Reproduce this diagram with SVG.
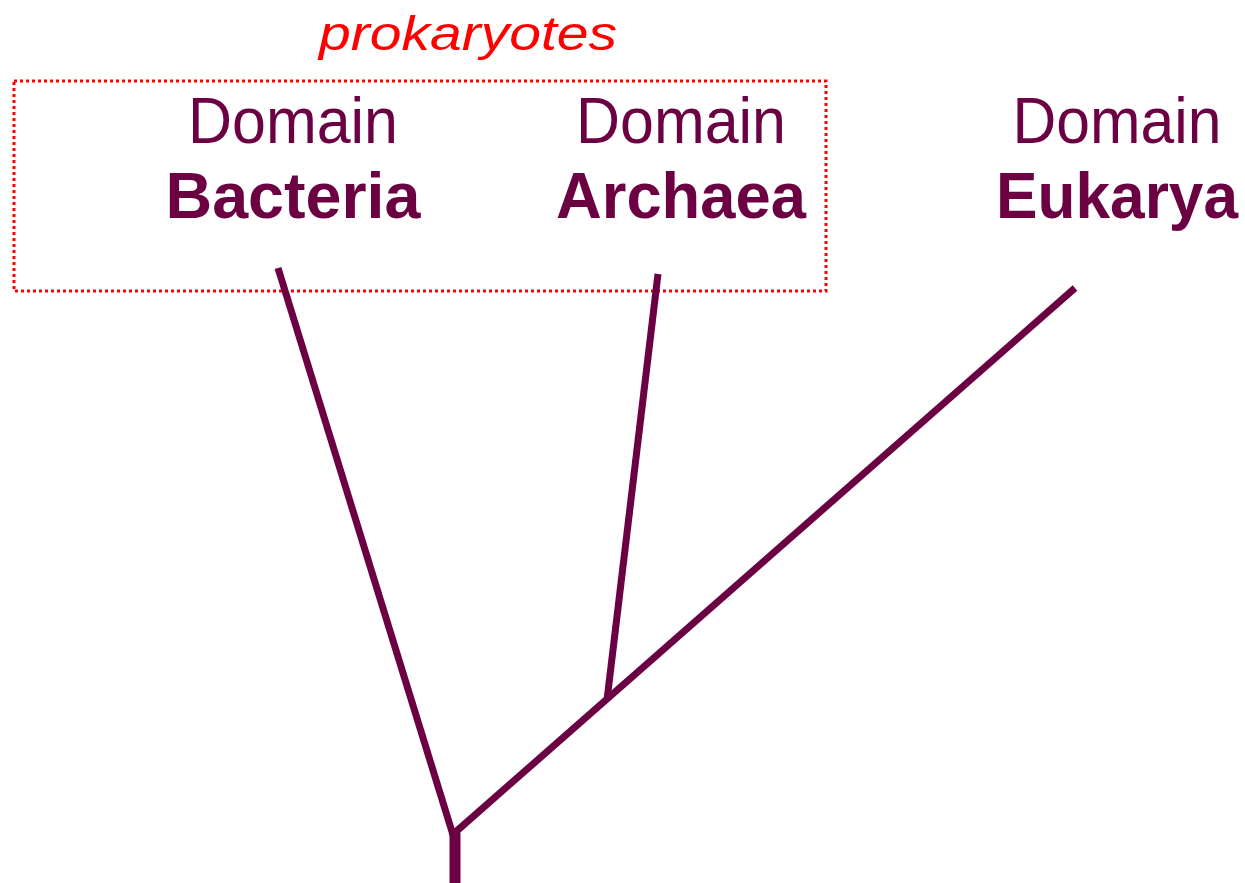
<svg xmlns="http://www.w3.org/2000/svg" width="1245" height="883" viewBox="0 0 1245 883">
  <style>
    .label { font-family: "Comic Sans MS", "Liberation Sans", Arial, sans-serif; fill: #6B0042; text-anchor: middle; }
    .domain { font-size: 64px; font-weight: normal; }
    .name { font-size: 64px; font-weight: bold; }
    .group { font-family: "Comic Sans MS", "Liberation Sans", Arial, sans-serif; font-size: 48px; font-style: italic; fill: #FF0000; text-anchor: middle; }
    .branch { stroke: #6B0042; stroke-width: 7; stroke-linecap: butt; fill: none; }
    .trunk { stroke-width: 11; }
  </style>
  <rect width="1245" height="883" fill="#FFFFFF"/>

  <!-- prokaryote grouping -->
  <g id="prokaryotes">
    <rect x="14" y="81" width="812" height="210" fill="none" stroke="#FF0000" stroke-width="3" stroke-dasharray="3 3"/>
    <text class="group" x="468" y="50" textLength="298" lengthAdjust="spacingAndGlyphs">prokaryotes</text>
  </g>

  <g id="bacteria">
    <text class="label domain" x="293" y="143" textLength="210" lengthAdjust="spacingAndGlyphs">Domain</text>
    <text class="label name" x="293" y="218" textLength="255" lengthAdjust="spacingAndGlyphs">Bacteria</text>
  </g>

  <g id="archaea">
    <text class="label domain" x="681" y="143" textLength="210" lengthAdjust="spacingAndGlyphs">Domain</text>
    <text class="label name" x="681" y="218" textLength="250" lengthAdjust="spacingAndGlyphs">Archaea</text>
  </g>

  <g id="eukarya">
    <text class="label domain" x="1117" y="143" textLength="209" lengthAdjust="spacingAndGlyphs">Domain</text>
    <text class="label name" x="1117" y="218" textLength="242" lengthAdjust="spacingAndGlyphs">Eukarya</text>
  </g>

  <!-- tree branches -->
  <g id="connectors">
    <line class="branch" x1="278" y1="268" x2="453" y2="835"/>
    <line class="branch" x1="658" y1="274" x2="607" y2="700"/>
    <line class="branch" x1="1075" y1="288" x2="451" y2="836"/>
    <line class="branch trunk" x1="455" y1="833" x2="455" y2="883"/>
  </g>
</svg>
